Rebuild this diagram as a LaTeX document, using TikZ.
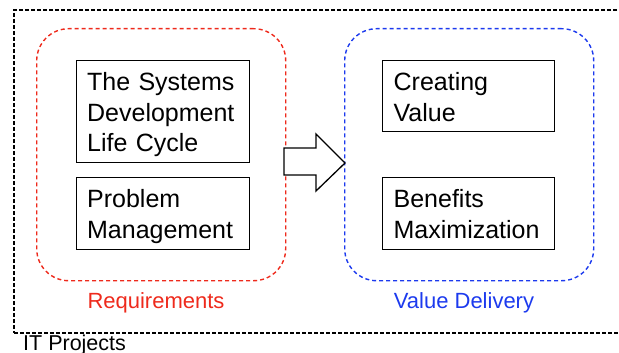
\documentclass[tikz,border=0pt]{standalone}
\usepackage{fontspec}
\setmainfont{Liberation Sans}
\begin{document}
\begin{tikzpicture}[x=1pt,y=-1pt,
  itembox/.style={draw=black, line width=1.3pt, anchor=north west, align=left,
    inner ysep=0pt, inner xsep=10.5pt, font=\fontsize{25}{30.4}\selectfont},
  groupbox/.style={draw, dash pattern=on 4pt off 3pt, line width=1.4pt, rounded corners=32pt,
    anchor=north west, inner sep=0pt},
  grouplabel/.style={anchor=base, font=\fontsize{22}{26}\selectfont},
  blockarrow/.style={draw=black, fill=white, line width=1.3pt, line join=miter}]
\definecolor{reqred}{RGB}{238,42,28}
\definecolor{valblue}{RGB}{28,58,238}
\useasboundingbox (0,0) rectangle (619,353);
% outer container
\node[draw=black, dash pattern=on 4pt off 2pt, line width=2pt, anchor=north west,
  minimum width=620pt, minimum height=323pt, inner sep=0pt] (it) at (13,9) {};
\node[anchor=base west, inner sep=0pt, font=\fontsize{21.5}{26}\selectfont] (itlab) at (23,350) {IT Projects};
% groups
\node[groupbox, draw=reqred, minimum width=249pt, minimum height=252pt] (req) at (36,28) {};
\node[groupbox, draw=valblue, minimum width=249pt, minimum height=252pt] (val) at (344,28) {};
\node[grouplabel, text=reqred] (reqlab) at (156,308) {Requirements};
\node[grouplabel, text=valblue] (vallab) at (464,308) {Value Delivery};
% items
\node[itembox, text width=152pt, text height=30pt, text depth=72pt] (sdlc) at (76,60)
  {The Systems\\Development\\Life Cycle};
\node[itembox, text width=152pt, text height=30.3pt, text depth=41.7pt] (pm) at (76,177)
  {Problem\\Management};
\node[itembox, text width=150pt, inner xsep=11pt, text height=30pt, text depth=41pt] (cv) at (382,60)
  {Creating\\Value};
\node[itembox, text width=150pt, inner xsep=11pt, text height=30.3pt, text depth=41.7pt] (bm) at (382,177)
  {Benefits\\Maximization};
% block arrow
\draw[blockarrow] (284,148) -- (316,148) -- (316,134) -- (345,163) -- (316,191) -- (316,175) -- (284,175) -- cycle;
\end{tikzpicture}
\end{document}
